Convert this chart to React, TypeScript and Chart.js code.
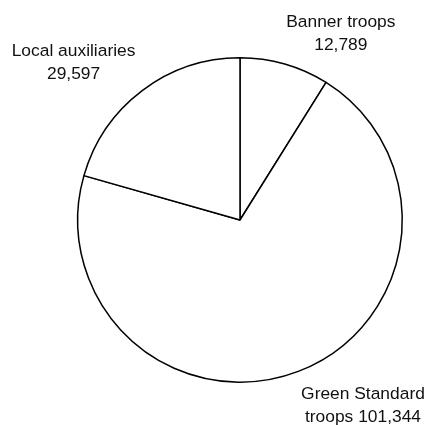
import React, { useEffect, useRef } from "react";
import { Chart, registerables } from "chart.js";

Chart.register(...registerables);

const categories: string[][] = [
  ["Banner troops", "12,789"],
  ["Green Standard", "troops 101,344"],
  ["Local auxiliaries", "29,597"],
];
const values: number[] = [12789, 101344, 29597];

const FONT = '17.4px "Liberation Sans", Arial, sans-serif';
const LINE_H = 23;

const labelPlugin = {
  id: "outerLabels",
  afterDraw(chart: any) {
    const ctx = chart.ctx;
    const meta = chart.getDatasetMeta(0);
    ctx.save();
    ctx.font = FONT;
    ctx.fillStyle = "#111";
    ctx.textBaseline = "middle";
    ctx.textAlign = "center";
    meta.data.forEach((arc: any, i: number) => {
      const p = arc.getProps(["x", "y", "startAngle", "endAngle", "outerRadius"], true);
      const mid = (p.startAngle + p.endAngle) / 2;
      const r = p.outerRadius * 1.1;
      const ax = p.x + Math.cos(mid) * r;
      const ay = p.y + Math.sin(mid) * r;
      const lines = categories[i];
      const w = Math.max(...lines.map((l) => ctx.measureText(l).width));
      const left = Math.cos(mid) >= 0 ? ax - 3 : ax - w + 3;
      const cx = left + w / 2;
      const blockH = LINE_H * lines.length;
      const top = Math.sin(mid) < 0 ? ay + 8 - blockH : ay - 3.5;
      lines.forEach((l, j) => {
        ctx.fillText(l, cx, top + LINE_H * j + LINE_H / 2);
      });
    });
    ctx.restore();
  },
};

export default function App() {
  const ref = useRef<HTMLCanvasElement | null>(null);
  useEffect(() => {
    if (!ref.current) return;
    const chart = new Chart(ref.current, {
      type: "pie",
      data: {
        labels: categories.map((c) => c.join(" ")),
        datasets: [
          {
            data: values,
            backgroundColor: "#ffffff",
            borderColor: "#000000",
            borderWidth: 1.5,
          },
        ],
      },
      options: {
        responsive: false,
        animation: false,
        devicePixelRatio: 1,
        layout: { padding: { left: 77, right: 23, top: 57, bottom: 42 } },
        plugins: {
          legend: { display: false },
          tooltip: { enabled: false },
        },
      },
      plugins: [labelPlugin],
    });
    return () => chart.destroy();
  }, []);
  return (
    <div style={{ position: "fixed", left: 0, top: 0, width: 426, height: 425, background: "#fff" }}>
      <canvas ref={ref} width={426} height={425} />
    </div>
  );
}
